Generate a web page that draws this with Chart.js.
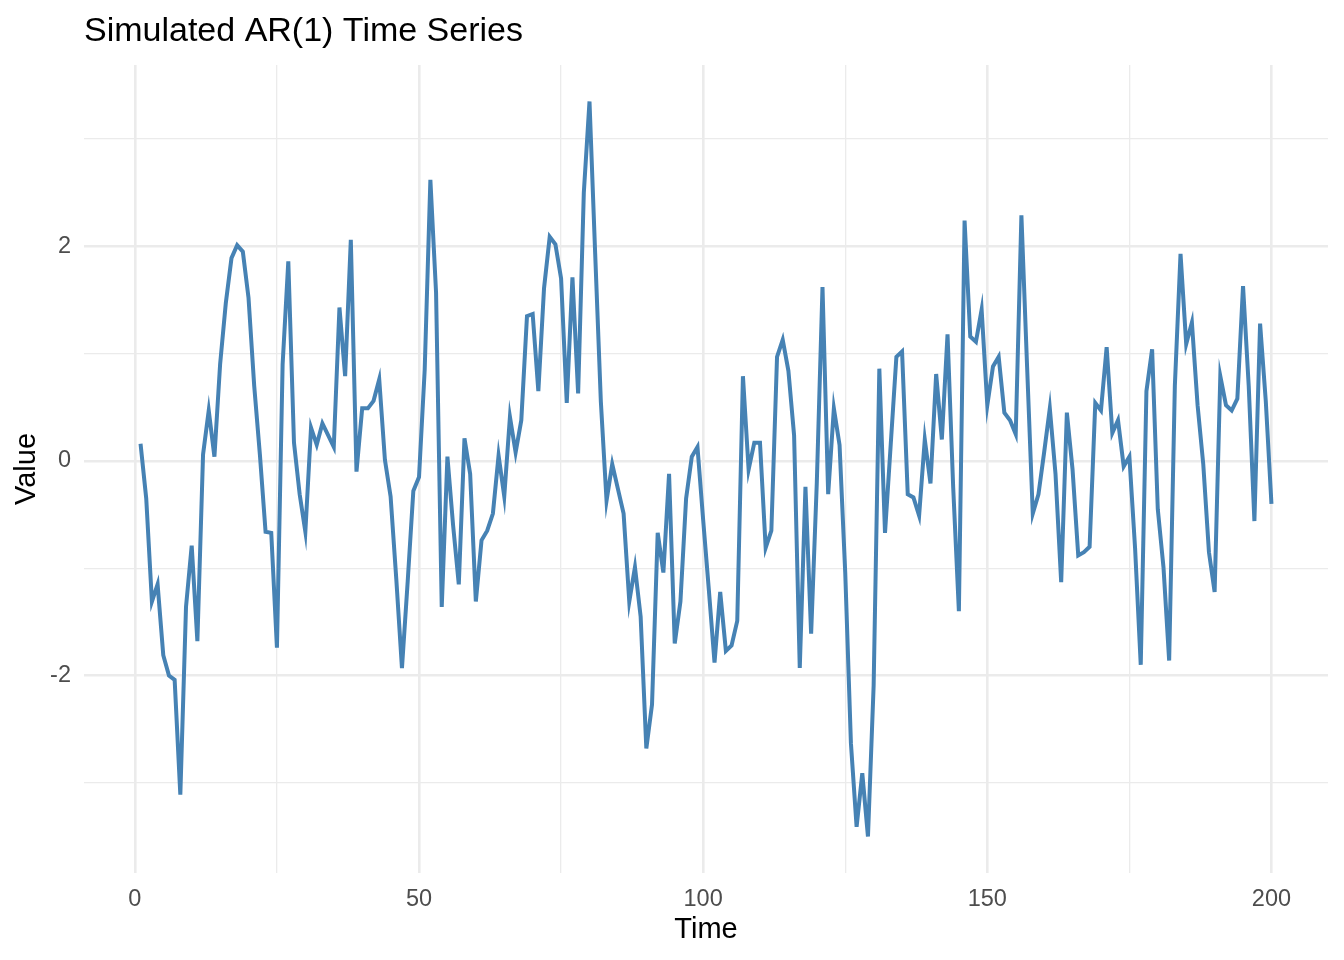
<!DOCTYPE html>
<html>
<head>
<meta charset="utf-8">
<title>Simulated AR(1) Time Series</title>
<script src="https://cdn.jsdelivr.net/npm/chart.js@4.4.1/dist/chart.umd.min.js"></script>
<style>
  html, body { margin: 0; padding: 0; background: #fff; }
  #wrap { width: 1344px; height: 960px; }
</style>
</head>
<body>
<div id="wrap"><canvas id="chart" width="1344" height="960"></canvas></div>
<script>
const TITLE = 'Simulated AR(1) Time Series';
const X_TICKS = [0, 25, 50, 75, 100, 125, 150, 175, 200];
const Y_TICKS = [-3, -2, -1, 0, 1, 2, 3];

// values, t = 1..200
const values = [
  0.16, -0.35, -1.31, -1.15, -1.81, -2.0, -2.04, -3.11, -1.36, -0.79,
  -1.68, 0.06, 0.47, 0.04, 0.9, 1.47, 1.89, 2.01, 1.95, 1.52,
  0.70, 0.06, -0.66, -0.67, -1.74, 0.9, 1.86, 0.17, -0.31, -0.66,
  0.31, 0.15, 0.35, 0.24, 0.13, 1.43, 0.79, 2.06, -0.10, 0.49,
  0.49, 0.56, 0.76, 0.01, -0.33, -1.1, -1.93, -1.13, -0.28, -0.15,
  0.85, 2.62, 1.57, -1.36, 0.04, -0.6, -1.15, 0.21, -0.12, -1.31,
  -0.74, -0.65, -0.49, 0.05, -0.33, 0.41, 0.08, 0.38, 1.35, 1.37,
  0.65, 1.61, 2.09, 2.02, 1.70, 0.54, 1.71, 0.63, 2.5, 3.35,
  1.93, 0.55, -0.37, -0.03, -0.26, -0.49, -1.31, -0.99, -1.45, -2.68,
  -2.27, -0.67, -1.04, -0.12, -1.70, -1.31, -0.35, 0.04, 0.13, -0.55,
  -1.2, -1.88, -1.22, -1.77, -1.72, -1.49, 0.79, -0.08, 0.17, 0.17,
  -0.81, -0.65, 0.97, 1.13, 0.84, 0.24, -1.93, -0.24, -1.61, -0.2,
  1.62, -0.31, 0.49, 0.15, -1.04, -2.63, -3.41, -2.91, -3.50, -2.09,
  0.86, -0.67, 0.15, 0.97, 1.02, -0.31, -0.34, -0.51, 0.20, -0.21,
  0.81, 0.2, 1.18, -0.25, -1.40, 2.24, 1.16, 1.11, 1.41, 0.52,
  0.88, 0.97, 0.45, 0.38, 0.25, 2.29, 0.88, -0.49, -0.31, 0.08,
  0.49, -0.12, -1.13, 0.45, -0.08, -0.88, -0.85, -0.80, 0.54, 0.47,
  1.06, 0.26, 0.38, -0.05, 0.04, -0.81, -1.90, 0.65, 1.04, -0.45,
  -0.99, -1.86, 0.7, 1.93, 1.09, 1.29, 0.52, -0.03, -0.85, -1.22,
  0.79, 0.52, 0.47, 0.58, 1.63, 0.70, -0.56, 1.28, 0.56, -0.40
];
const time = values.map((v, i) => i + 1);

const FONT = '"Liberation Sans", Arial, sans-serif';
const GRID = '#ebebeb';

// ggplot-like title, left aligned with the panel
const titlePlugin = {
  id: 'leftTitle',
  afterDraw(chart) {
    const c = chart.ctx;
    c.save();
    c.font = '34px ' + FONT;
    c.fillStyle = '#000';
    c.textAlign = 'left';
    c.textBaseline = 'alphabetic';
    c.fillText(TITLE, chart.chartArea.left, 41);
    c.restore();
  }
};

const ctx = document.getElementById('chart');
const chart = new Chart(ctx, {
  type: 'line',
  data: {
    datasets: [{
      label: 'AR(1)',
      data: time.map((t, i) => ({ x: t, y: values[i] })),
      borderColor: '#4682b4',
      borderWidth: 4,
      pointRadius: 0,
      tension: 0,
      fill: false
    }]
  },
  options: {
    responsive: false,
    animation: false,
    layout: { padding: { top: 65, right: 16, left: 0, bottom: 0 } },
    plugins: {
      legend: { display: false },
      tooltip: { enabled: false }
    },
    scales: {
      x: {
        type: 'linear',
        min: -8.95,
        max: 209.95,
        border: { display: false },
        grid: {
          color: GRID,
          drawTicks: false,
          lineWidth: c => (c.tick && c.tick.value % 50 === 0) ? 2.6 : 1.3
        },
        afterBuildTicks: s => { s.ticks = X_TICKS.map(v => ({ value: v })); },
        afterFit: s => { s.height = 87; },
        ticks: {
          padding: 12,
          color: '#4d4d4d',
          font: { family: FONT, size: 23.5 },
          maxRotation: 0,
          autoSkip: false,
          callback: v => (v % 50 === 0 ? String(v) : '')
        },
        title: {
          display: true,
          text: 'Time',
          color: '#000',
          font: { family: FONT, size: 29 },
          padding: { top: 0, bottom: 13 }
        }
      },
      y: {
        type: 'linear',
        min: -3.84,
        max: 3.69,
        border: { display: false },
        grid: {
          color: GRID,
          drawTicks: false,
          lineWidth: c => (c.tick && c.tick.value % 2 === 0) ? 2.6 : 1.3
        },
        afterBuildTicks: s => { s.ticks = Y_TICKS.map(v => ({ value: v })); },
        afterFit: s => { s.width = 84; },
        ticks: {
          padding: 13,
          color: '#4d4d4d',
          font: { family: FONT, size: 23.5 },
          autoSkip: false,
          callback: v => (v % 2 === 0 ? String(v) : '')
        },
        title: {
          display: true,
          text: 'Value',
          color: '#000',
          font: { family: FONT, size: 29 },
          padding: { top: 10, bottom: 0 }
        }
      }
    }
  },
  plugins: [titlePlugin]
});
</script>
</body>
</html>
